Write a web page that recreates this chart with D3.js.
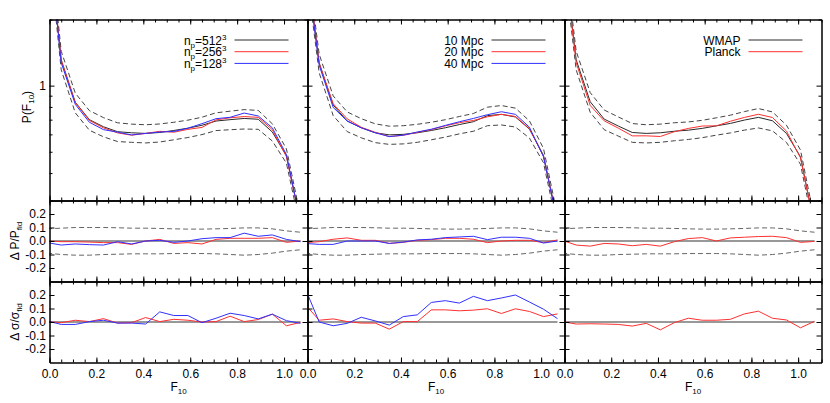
<!DOCTYPE html>
<html>
<head>
<meta charset="utf-8">
<script src="https://cdn.jsdelivr.net/npm/d3@7"></script>
<style>
body { margin: 0; background: #fff; }
svg text { font-family: "Liberation Sans", Arial, Helvetica, sans-serif; font-size: 12px; fill: #000; }
</style>
</head>
<body>
<svg id="myGraph" width="830" height="403"></svg>
<script>
// flux bins (F10) shared by every curve
var fluxBins = [-0.01, 0.05, 0.11, 0.17, 0.23, 0.29, 0.35, 0.41, 0.47, 0.53, 0.59, 0.65, 0.71, 0.77, 0.83, 0.89, 0.95, 1.01, 1.07];

// panel 1 : particle number
var pdfNp512 = [5.5, 1.31, 0.84, 0.70, 0.65, 0.617, 0.61, 0.606, 0.612, 0.625, 0.64, 0.66, 0.69, 0.70, 0.709, 0.703, 0.615, 0.48, 0.24];
var dPNp256 = [0, -0.005, -0.005, -0.008, -0.012, -0.012, -0.025, 0, 0.012, -0.018, -0.012, -0.022, 0.012, 0.02, 0.02, 0.02, 0.025, -0.01, 0];
var dPNp128 = [-0.012, -0.03, -0.022, -0.027, -0.03, -0.005, -0.022, 0, 0.005, -0.01, 0, 0.017, 0.025, 0.025, 0.058, 0.035, 0.045, 0.012, -0.005];
var dSNp256 = [0.003, -0.005, 0.013, 0.003, 0.025, -0.008, -0.005, 0.033, 0.003, 0.02, 0.013, 0, 0.003, 0.043, 0.003, 0.018, 0.058, -0.028, -0.003];
var dSNp128 = [0.008, -0.018, -0.018, 0.003, 0.013, -0.008, -0.008, -0.015, 0.075, 0.048, 0.048, -0.005, 0.028, 0.065, 0.048, 0.023, 0.058, 0.01, -0.01];

// panel 2 : smoothing length
var pdf10Mpc = [4.0, 1.27, 0.816, 0.69, 0.643, 0.61, 0.597, 0.60, 0.61, 0.625, 0.643, 0.665, 0.685, 0.73, 0.74, 0.72, 0.634, 0.482, 0.24];
var dP20Mpc = [-0.012, -0.005, 0.013, 0.023, 0.005, 0.005, -0.018, -0.01, 0.005, 0.01, 0.02, 0.02, 0.013, -0.012, 0, 0.005, 0.005, -0.012, 0.008];
var dP40Mpc = [-0.018, -0.025, -0.025, 0, 0, 0, -0.018, -0.008, 0.008, 0.013, 0.025, 0.03, 0.035, 0.01, 0.028, 0.028, 0.02, -0.015, 0];
var dS20Mpc = [0.13, 0.013, 0.023, 0.003, -0.008, -0.008, -0.053, 0.003, 0.003, 0.09, 0.09, 0.083, 0.088, 0.098, 0.063, 0.098, 0.078, 0.04, 0.06];
var dS40Mpc = [0.25, 0, -0.028, -0.01, 0.035, 0.008, -0.023, 0.04, 0.053, 0.145, 0.158, 0.14, 0.19, 0.158, 0.178, 0.2, 0.148, 0.095, 0.025];

// panel 3 : cosmology
var pdfWmap = [4.5, 1.31, 0.845, 0.704, 0.655, 0.612, 0.606, 0.61, 0.62, 0.627, 0.639, 0.656, 0.673, 0.697, 0.717, 0.692, 0.606, 0.474, 0.23];
var dPPlanck = [0.005, -0.03, -0.038, -0.018, -0.022, -0.035, -0.025, -0.038, -0.005, 0.018, 0.025, 0, 0.023, 0.028, 0.033, 0.035, 0.025, -0.01, -0.003];
var dSPlanck = [0.003, -0.015, -0.013, -0.015, -0.018, -0.03, -0.01, -0.058, -0.005, 0.028, 0.013, 0.013, 0.02, 0.06, 0.08, 0.028, 0.015, -0.043, 0.005];

// relative 1-sigma scatter (dashed)
var sigUp = [0.09, 0.095, 0.1, 0.1, 0.1, 0.098, 0.095, 0.095, 0.093, 0.09, 0.088, 0.088, 0.09, 0.093, 0.097, 0.097, 0.09, 0.075, 0.065];
var sigLo = [-0.09, -0.1, -0.105, -0.105, -0.1, -0.098, -0.095, -0.095, -0.095, -0.093, -0.093, -0.093, -0.095, -0.1, -0.105, -0.1, -0.09, -0.075, -0.065];

var xTickLabels = [0.0, 0.2, 0.4, 0.6, 0.8, 1.0];
var dTickLabels = [-0.2, -0.1, 0.0, 0.1, 0.2];
var pTickMinor = [0.3, 0.4, 0.5, 0.6, 0.7, 0.8, 0.9, 2];
var legendNp = ["512", "256", "128"];
var legendMpc = ["10 Mpc", "20 Mpc", "40 Mpc"];
var legendCosmo = ["WMAP", "Planck"];

var black = "#2a2a2a", red = "#ff3030", blue = "#3030ff";

var panels = [
  {fid: pdfNp512, comps: [[dPNp256, dSNp256, red], [dPNp128, dSNp128, blue]], legend: legendNp, sup: true},
  {fid: pdf10Mpc, comps: [[dP20Mpc, dS20Mpc, red], [dP40Mpc, dS40Mpc, blue]], legend: legendMpc, sup: false},
  {fid: pdfWmap, comps: [[dPPlanck, dSPlanck, red]], legend: legendCosmo, sup: false}
];

var svg = d3.select("#myGraph");
var colLeft = [49.5, 307.5, 564.5], colRight = [307.5, 564.5, 821.5];

var yTop = d3.scaleLog().domain([0.3, 2]).range([200.5, 19.5]);
var yMid = d3.scaleLinear().domain([-0.3, 0.3]).range([281.5, 200.5]);
var yBot = d3.scaleLinear().domain([-0.3, 0.3]).range([362.5, 281.5]);
var rows = [
  {y: yTop, major: [1], minor: pTickMinor},
  {y: yMid, major: dTickLabels, minor: []},
  {y: yBot, major: dTickLabels, minor: []}
];
var xMinor = d3.range(0, 1.1001, 0.05);

function frame(x, y, major, minor) {
  var g = svg.append("g");
  var y0 = y.range()[0], y1 = y.range()[1], x0 = x.range()[0], x1 = x.range()[1];
  [[xMinor, 3], [xTickLabels, 5]].forEach(function(t) {
    g.append("g").attr("transform", "translate(0," + y0 + ")")
      .call(d3.axisBottom(x).tickValues(t[0]).tickSize(-t[1]).tickSizeOuter(0).tickFormat(""));
    g.append("g").attr("transform", "translate(0," + y1 + ")")
      .call(d3.axisTop(x).tickValues(t[0]).tickSize(-t[1]).tickSizeOuter(0).tickFormat(""));
  });
  [[minor, 3], [major, 5]].forEach(function(t) {
    g.append("g").attr("transform", "translate(" + x0 + ",0)")
      .call(d3.axisLeft(y).tickValues(t[0]).tickSize(-t[1]).tickSizeOuter(0).tickFormat(""));
    g.append("g").attr("transform", "translate(" + x1 + ",0)")
      .call(d3.axisRight(y).tickValues(t[0]).tickSize(-t[1]).tickSizeOuter(0).tickFormat(""));
  });
  g.selectAll(".domain").attr("stroke", "#000");
  g.selectAll(".tick line").attr("stroke", "#000");
}

panels.forEach(function(p, c) {
  var x = d3.scaleLinear().domain([0, 1.1]).range([colLeft[c], colRight[c]]);

  rows.forEach(function(r, k) {
    var id = "clip" + c + k;
    svg.append("clipPath").attr("id", id).append("rect")
      .attr("x", colLeft[c]).attr("y", r.y.range()[1])
      .attr("width", colRight[c] - colLeft[c]).attr("height", r.y.range()[0] - r.y.range()[1]);
    var g = svg.append("g").attr("clip-path", "url(#" + id + ")");
    var line = d3.line().x(function(d, i) { return x(fluxBins[i]); }).y(function(d) { return r.y(d); });

    if (k == 0) {
      // fiducial +/- sigma, then the fiducial and the other runs (fid * (1 + dP))
      g.append("path").datum(p.fid.map(function(v, i) { return v * (1 + sigUp[i]); }))
        .attr("d", line).attr("fill", "none").attr("stroke", "#444").attr("stroke-dasharray", "5,3");
      g.append("path").datum(p.fid.map(function(v, i) { return v * (1 + sigLo[i]); }))
        .attr("d", line).attr("fill", "none").attr("stroke", "#444").attr("stroke-dasharray", "5,3");
      g.append("path").datum(p.fid).attr("d", line).attr("fill", "none").attr("stroke", black);
      p.comps.forEach(function(cp) {
        g.append("path").datum(p.fid.map(function(v, i) { return v * (1 + cp[0][i]); }))
          .attr("d", line).attr("fill", "none").attr("stroke", cp[2]);
      });
    } else {
      if (k == 1) {
        g.append("path").datum(sigUp).attr("d", line).attr("fill", "none")
          .attr("stroke", "#666").attr("stroke-dasharray", "5,3");
        g.append("path").datum(sigLo).attr("d", line).attr("fill", "none")
          .attr("stroke", "#666").attr("stroke-dasharray", "5,3");
      }
      g.append("line").attr("x1", x(fluxBins[0])).attr("x2", x(fluxBins[fluxBins.length - 1]))
        .attr("y1", r.y(0)).attr("y2", r.y(0)).attr("stroke", "#333");
      p.comps.forEach(function(cp) {
        g.append("path").datum(cp[k - 1]).attr("d", line).attr("fill", "none").attr("stroke", cp[2]);
      });
    }
    frame(x, r.y, r.major, r.minor);
  });

  // x tick labels and title
  var xa = svg.append("g").attr("transform", "translate(0,362.5)")
    .call(d3.axisBottom(x).tickValues(xTickLabels).tickSize(0).tickPadding(7)
      .tickFormat(function(d) { return d.toFixed(1); }));
  xa.select(".domain").remove();
  xa.attr("font-size", null).attr("font-family", null);
  var xt = svg.append("text").attr("x", (colLeft[c] + colRight[c]) / 2).attr("y", 391)
    .attr("text-anchor", "middle");
  xt.append("tspan").text("F");
  xt.append("tspan").attr("dy", 3).style("font-size", "8px").text("10");

  // legend
  var right = colRight[c];
  p.legend.forEach(function(name, i) {
    var yy = 40 + i * 11.7;
    svg.append("line").attr("x1", right - 73).attr("x2", right - 19)
      .attr("y1", yy).attr("y2", yy)
      .attr("stroke", i == 0 ? black : p.comps[i - 1][2]);
    var t = svg.append("text").attr("x", right - 81).attr("y", yy + 4.5).attr("text-anchor", "end");
    if (p.sup) {
      t.append("tspan").text("n");
      t.append("tspan").attr("dy", 3).style("font-size", "8px").text("p");
      t.append("tspan").attr("dy", -3).text("=" + name);
      t.append("tspan").attr("dy", -5).style("font-size", "8px").text("3");
    } else {
      t.text(name);
    }
  });
});

// y tick labels on the first column
var yl = [
  [yTop, [1], function(d) { return "1"; }],
  [yMid, dTickLabels, function(d) { return d.toFixed(1); }],
  [yBot, dTickLabels, function(d) { return d.toFixed(1); }]
];
yl.forEach(function(a) {
  var ga = svg.append("g").attr("transform", "translate(49.5,0)")
    .call(d3.axisLeft(a[0]).tickValues(a[1]).tickSize(0).tickPadding(3.5).tickFormat(a[2]));
  ga.select(".domain").remove();
  ga.attr("font-size", null).attr("font-family", null);
});

// y titles
var t1 = svg.append("text").attr("transform", "translate(31,107) rotate(-90)").attr("text-anchor", "middle");
t1.append("tspan").text("P(F");
t1.append("tspan").attr("dy", 3).style("font-size", "8px").text("10");
t1.append("tspan").attr("dy", -3).text(")");

var t2 = svg.append("text").attr("transform", "translate(19,241) rotate(-90)").attr("text-anchor", "middle");
t2.append("tspan").text("\u0394 P/P");
t2.append("tspan").attr("dy", 3).style("font-size", "8px").text("fid");

var t3 = svg.append("text").attr("transform", "translate(19,322) rotate(-90)").attr("text-anchor", "middle");
t3.append("tspan").text("\u0394 \u03c3/\u03c3");
t3.append("tspan").attr("dy", 3).style("font-size", "8px").text("fid");
</script>
</body>
</html>
